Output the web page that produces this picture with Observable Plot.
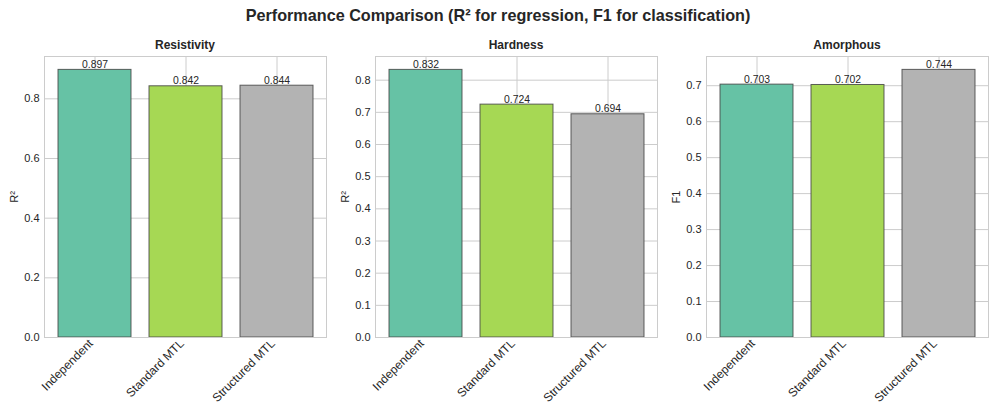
<!DOCTYPE html>
<html><head><meta charset="utf-8">
<script src="https://cdn.jsdelivr.net/npm/d3@7"></script>
<script src="https://cdn.jsdelivr.net/npm/@observablehq/plot@0.6"></script>
<style>
body{margin:0;background:#fff;font-family:"Liberation Sans",Arial,sans-serif;}
#root{position:relative;width:996px;height:414px;overflow:hidden;}
#title{position:absolute;left:0;width:996px;top:6px;text-align:center;font-weight:bold;font-size:16.2px;color:#262626;}
.panel{position:absolute;top:0;}
.sub{position:absolute;top:38px;width:282px;font-weight:bold;font-size:12px;text-align:center;color:#262626;}
</style></head><body>
<div id="root"><div id="title">Performance Comparison (R² for regression, F1 for classification)</div></div>
<script>
const methods = ["Independent", "Standard MTL", "Structured MTL"];
const colors = ["#66c2a5", "#a6d854", "#b3b3b3"];
const tasks = ["Resistivity", "Hardness", "Amorphous"];
const metrics = ["R²", "R²", "F1"];
const resistivity = [0.897, 0.842, 0.844];
const hardness = [0.832, 0.724, 0.694];
const amorphous = [0.703, 0.702, 0.744];
const ticksResistivity = [0.0, 0.2, 0.4, 0.6, 0.8];
const ticksHardness = [0.0, 0.1, 0.2, 0.3, 0.4, 0.5, 0.6, 0.7, 0.8];
const ticksAmorphous = [0.0, 0.1, 0.2, 0.3, 0.4, 0.5, 0.6, 0.7];

const seriesList = [resistivity, hardness, amorphous];
const tickList = [ticksResistivity, ticksHardness, ticksAmorphous];
const root = document.getElementById("root");
const panelW = 332, plotLeft = 44, plotW = 282;

tasks.forEach((task, i) => {
  const data = methods.map((m, j) => ({method: m, value: seriesList[i][j], color: colors[j]}));
  const ymax = d3.max(seriesList[i]) * 1.05;
  const chart = Plot.plot({
    width: panelW, height: 414,
    marginLeft: plotLeft, marginRight: panelW - plotLeft - plotW,
    marginTop: 56, marginBottom: 77,
    style: {fontFamily: '"Liberation Sans", Arial, sans-serif', fontSize: "11px", color: "#262626", background: "transparent"},
    x: {domain: methods, paddingInner: 0.2, paddingOuter: 0.14},
    y: {domain: [0, ymax]},
    marks: [
      Plot.gridY(tickList[i], {stroke: "#cccccc", strokeOpacity: 1}),
      Plot.gridX(methods, {stroke: "#cccccc", strokeOpacity: 1}),
      Plot.barY(data, {x: "method", y: "value", fill: "color", stroke: "#444", strokeWidth: 1, strokeOpacity: 0.85}),
      Plot.text(data, {x: "method", y: "value", text: d => d3.format(".3f")(d.value), lineAnchor: "bottom", dy: -2, fontSize: 10.4, fill: "#262626"}),
      Plot.frame({stroke: "#cccccc", strokeOpacity: 1}),
      Plot.axisX({label: null, tickRotate: -45, tickSize: 0, tickPadding: 4, fontSize: 12, dx: -4}),
      Plot.axisY({ticks: tickList[i], tickFormat: ".1f", tickSize: 0, tickPadding: 5, fontSize: 11, label: metrics[i], labelAnchor: "center", labelArrow: "none", labelOffset: 34})
    ]
  });
  chart.classList.add("panel");
  chart.style.left = (i * (panelW - 1)) + "px";
  root.appendChild(chart);
  const sub = document.createElement("div");
  sub.className = "sub";
  sub.textContent = task;
  sub.style.left = (i * (panelW - 1) + plotLeft) + "px";
  root.appendChild(sub);
});
</script>
</body></html>
